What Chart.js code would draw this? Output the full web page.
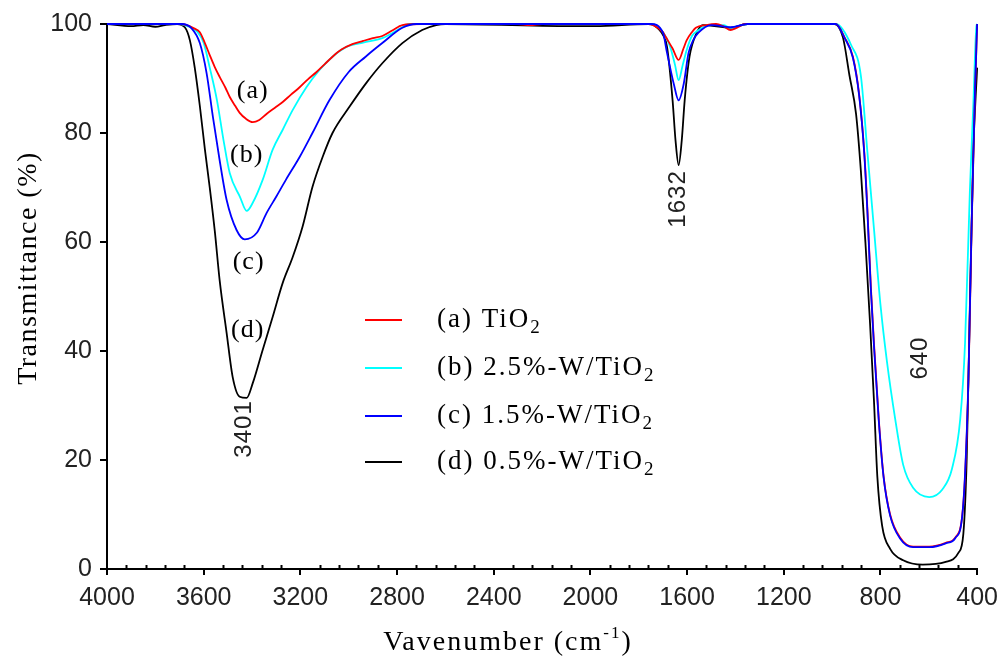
<!DOCTYPE html>
<html>
<head>
<meta charset="utf-8">
<script src="https://cdn.jsdelivr.net/npm/chart.js@4"></script>
<style>
  body { margin: 0; background: #fff; }
</style>
</head>
<body>
<canvas id="chart" width="1006" height="657"></canvas>
<script>
// Osie: liczba falowa (cm-1) i transmitancja (%)
const xTicks = [4000, 3600, 3200, 2800, 2400, 2000, 1600, 1200, 800, 400];
const yTicks = [0, 20, 40, 60, 80, 100];

// Widma FTIR: [liczba falowa, transmitancja]
const tio2 = [
    [4000, 100], [3850, 100], [3700, 100], [3670, 99.8], [3640, 99.2], [3616, 98.5],
    [3595, 96.5], [3575, 94.3], [3555, 92.2], [3534, 90.3], [3510, 88.3], [3492, 86.6],
    [3470, 85], [3451, 83.7], [3425, 82.6], [3397, 82], [3370, 82.4], [3340, 83.5],
    [3300, 84.8], [3273, 85.7], [3240, 87], [3203, 88.4], [3170, 89.8], [3133, 91.2],
    [3100, 92.6], [3067, 94], [3030, 95.3], [2985, 96.3], [2940, 96.9], [2900, 97.4],
    [2861, 97.8], [2820, 98.8], [2778, 99.8], [2700, 100], [2300, 100], [2250, 99.8],
    [2200, 100], [1760, 100], [1740, 99.8], [1700, 98.5], [1688, 97.6], [1660, 95.5],
    [1635, 93.4], [1615, 95.5], [1602, 97], [1580, 98.5], [1564, 99.3], [1520, 99.8],
    [1480, 100], [1450, 99.6], [1420, 98.9], [1395, 99.3], [1360, 100], [985, 100],
    [948, 97.5], [914, 94], [888, 87], [867, 76.5], [854, 66], [840, 52], [827, 41.5],
    [807, 27.5], [787, 17], [760, 10], [719, 5.8], [665, 4.1], [598, 4.1], [530, 4.8],
    [490, 5.8], [463, 9.3], [450, 17], [436, 34.5], [423, 62.5], [409, 87], [400, 100]
];

const w25 = [
    [4000, 100], [3850, 100], [3700, 100], [3680, 99.8], [3625, 98.5], [3600, 96.5],
    [3575, 92], [3545, 86], [3518, 78.7], [3492, 72.6], [3450, 68.3], [3422, 65.7],
    [3397, 67.2], [3356, 71.4], [3315, 76.9], [3273, 80.6], [3232, 84.2], [3175, 88.4],
    [3120, 91.6], [3067, 94], [3009, 95.8], [2940, 96.6], [2861, 97.4], [2778, 99.4],
    [2750, 100], [1750, 100], [1700, 98.5], [1670, 95.8], [1650, 92.5], [1635, 89.7],
    [1618, 92.5], [1602, 95.2], [1580, 97.8], [1555, 98.8], [1510, 99.8], [1450, 99.8],
    [1420, 99.3], [1380, 99.7], [1350, 100], [985, 100], [921, 96.1], [881, 90.5],
    [854, 76.5], [827, 62.5], [800, 48.5], [773, 38], [739, 27.5], [706, 19.1],
    [665, 14.9], [598, 13.2], [544, 14.6], [504, 18.4], [470, 27.5], [450, 41.5],
    [430, 69.5], [416, 85], [403, 99.6], [400, 100]
];

const w15 = [
    [4000, 100], [3850, 100], [3690, 100], [3650, 99.2], [3616, 96.5], [3588, 91],
    [3562, 83], [3534, 75], [3505, 67.7], [3464, 62.2], [3430, 60.5], [3380, 61.7],
    [3340, 65.3], [3300, 68.3], [3260, 71.4], [3203, 75.6], [3150, 80], [3080, 86],
    [3000, 91.2], [2930, 94], [2861, 96.5], [2778, 99.3], [2720, 100], [1750, 100],
    [1700, 98.4], [1683, 94.7], [1655, 89], [1635, 86], [1614, 89], [1594, 94.7],
    [1575, 97], [1553, 98.4], [1500, 99.8], [1420, 99.4], [1350, 100], [985, 100],
    [948, 97.4], [914, 93.8], [888, 86.8], [867, 76.2], [854, 65.5], [840, 51.5],
    [827, 41], [807, 27.2], [787, 16.8], [760, 9.8], [719, 5.6], [665, 4], [598, 4],
    [530, 4.7], [490, 5.7], [463, 9.2], [450, 17.5], [436, 35], [423, 63], [409, 87.5],
    [400, 100]
];

const w05 = [
    [4000, 100], [3900, 99.6], [3850, 99.8], [3800, 99.5], [3760, 99.8], [3710, 100],
    [3678, 99.4], [3657, 97], [3637, 92], [3616, 85], [3595, 77], [3575, 70], [3554, 62],
    [3534, 53], [3505, 43.3], [3480, 35.2], [3451, 31.6], [3422, 31.4], [3397, 34.1],
    [3356, 40.2], [3315, 46.2], [3273, 52.5], [3232, 57.2], [3191, 62.8], [3150, 70.1],
    [3108, 75.6], [3067, 80], [2997, 84.8], [2927, 89.2], [2861, 92.8], [2778, 96.5],
    [2696, 98.9], [2638, 99.8], [2600, 100], [2050, 99.6], [1980, 99.6], [1760, 100],
    [1738, 99.8], [1700, 98], [1683, 95.8], [1660, 86], [1648, 78.7], [1635, 74.1],
    [1622, 78.7], [1610, 86], [1590, 94], [1560, 98.4], [1535, 99.8], [1420, 99.3],
    [1350, 100], [990, 100], [955, 97.5], [928, 90.5], [901, 83.5], [881, 73], [861, 59],
    [843, 45], [827, 31], [813, 17], [793, 7.9], [760, 3.7], [706, 1.6], [625, 0.8],
    [530, 1.3], [477, 3], [457, 6.5], [443, 20.5], [430, 48.5], [416, 76.5], [400, 92]
];

const names = ["(a) TiO", "(b) 2.5%-W/TiO", "(c) 1.5%-W/TiO", "(d) 0.5%-W/TiO"];
const colors = ["#ff0000", "#00ffff", "#0000ff", "#000000"];
const drawOrder = [1, 2, 0, 3];

// Opisy pasm i krzywych w jednostkach danych
const notes = [
    { text: "(a)", x: 3397, y: 87.7 },
    { text: "(b)", x: 3422, y: 76 },
    { text: "(c)", x: 3414, y: 56.3 },
    { text: "(d)", x: 3418, y: 43.9 }
];
const peaks = [
    { text: "3401", x: 3430, y: 25.7 },
    { text: "1632", x: 1635, y: 67.9 },
    { text: "640", x: 636, y: 38.7 }
];

const serif = "'Liberation Serif', 'Times New Roman', serif";
const sans = "'Liberation Sans', Arial, sans-serif";

const datasets = [tio2, w25, w15, w05].map((s, i) => ({
    label: names[i],
    data: s.map(p => ({ x: p[0], y: p[1] })),
    borderColor: colors[i],
    backgroundColor: colors[i],
    borderWidth: 1.8,
    pointRadius: 0,
    cubicInterpolationMode: "monotone",
    order: drawOrder[i],
    clip: 4
}));

// Napisy, legenda i drobne podziałki
const textPlugin = {
    id: "texts",
    afterDraw(chart) {
        const ctx = chart.ctx;
        const xs = chart.scales.x;
        const ys = chart.scales.y;
        const bottom = chart.chartArea.bottom;
        ctx.save();

        // drobne podziałki osi X co 80
        ctx.strokeStyle = "#000";
        ctx.lineWidth = 2;
        for (let v = 400; v <= 4000; v += 80) {
            if (v % 400 === 0) continue;
            const px = Math.round(xs.getPixelForValue(v)) + 0.5;
            ctx.beginPath();
            ctx.moveTo(px, bottom);
            ctx.lineTo(px, bottom - 4);
            ctx.stroke();
        }

        ctx.fillStyle = "#000";
        ctx.textAlign = "center";
        ctx.textBaseline = "middle";

        // (a) (b) (c) (d)
        ctx.font = "26px " + serif;
        ctx.letterSpacing = "1px";
        notes.forEach(n => {
            ctx.fillText(n.text, xs.getPixelForValue(n.x), ys.getPixelForValue(n.y));
        });

        // pionowe numery pasm
        ctx.font = "24px " + sans;
        ctx.fillStyle = "#222";
        peaks.forEach(p => {
            ctx.save();
            ctx.translate(xs.getPixelForValue(p.x), ys.getPixelForValue(p.y));
            ctx.rotate(-Math.PI / 2);
            ctx.fillText(p.text, 0, 0);
            ctx.restore();
        });

        // legenda
        ctx.fillStyle = "#000";
        ctx.textAlign = "left";
        ctx.letterSpacing = "2px";
        const rows = [320, 368, 416, 462];
        datasets.forEach((d, i) => {
            const y = rows[i];
            ctx.strokeStyle = d.borderColor;
            ctx.lineWidth = 2;
            ctx.beginPath();
            ctx.moveTo(365, y);
            ctx.lineTo(402, y);
            ctx.stroke();
            ctx.font = "27px " + serif;
            ctx.fillText(names[i], 437, y);
            const w = ctx.measureText(names[i]).width;
            ctx.font = "19px " + serif;
            ctx.fillText("2", 437 + w, y + 8);
        });

        // tytuł osi Y
        ctx.font = "28px " + serif;
        ctx.letterSpacing = "1.5px";
        ctx.textAlign = "center";
        ctx.save();
        ctx.translate(29, 268);
        ctx.rotate(-Math.PI / 2);
        ctx.fillText("Transmittance (%)", 0, 0);
        ctx.restore();

        // tytuł osi X z indeksem górnym
        ctx.textAlign = "left";
        ctx.textBaseline = "alphabetic";
        ctx.letterSpacing = "2px";
        const main = "Vavenumber (cm";
        ctx.font = "28px " + serif;
        const w1 = ctx.measureText(main).width;
        ctx.font = "17px " + serif;
        const w2 = ctx.measureText("-1").width;
        ctx.font = "28px " + serif;
        const w3 = ctx.measureText(")").width;
        let x0 = 508 - (w1 + w2 + w3) / 2;
        ctx.fillText(main, x0, 650);
        ctx.font = "17px " + serif;
        ctx.fillText("-1", x0 + w1, 638);
        ctx.font = "28px " + serif;
        ctx.fillText(")", x0 + w1 + w2, 650);

        ctx.restore();
    }
};

const ctx = document.getElementById("chart").getContext("2d");
const chart = new Chart(ctx, {
    type: "line",
    data: { datasets: datasets },
    options: {
        responsive: false,
        animation: false,
        layout: { padding: { top: 24, right: 27, left: 0, bottom: 0 } },
        plugins: {
            legend: { display: false },
            tooltip: { enabled: false }
        },
        scales: {
            x: {
                type: "linear",
                reverse: true,
                min: 400,
                max: 4000,
                afterBuildTicks: s => { s.ticks = xTicks.map(v => ({ value: v })); },
                afterFit: s => { s.height = 88; },
                grid: { drawOnChartArea: false, color: "#000", lineWidth: 2, tickLength: 6 },
                border: { color: "#000", width: 2 },
                ticks: {
                    color: "#222",
                    font: { family: sans, size: 25 },
                    padding: 8,
                    maxRotation: 0,
                    autoSkip: false,
                    callback: v => String(v)
                }
            },
            y: {
                min: 0,
                max: 100,
                afterBuildTicks: s => { s.ticks = yTicks.map(v => ({ value: v })); },
                afterFit: s => { s.width = 107; },
                grid: { drawOnChartArea: false, color: "#000", lineWidth: 2, tickLength: 7 },
                border: { color: "#000", width: 2 },
                ticks: {
                    color: "#222",
                    font: { family: sans, size: 25 },
                    padding: 8,
                    callback: v => String(v)
                }
            }
        }
    },
    plugins: [textPlugin]
});
</script>
</body>
</html>
